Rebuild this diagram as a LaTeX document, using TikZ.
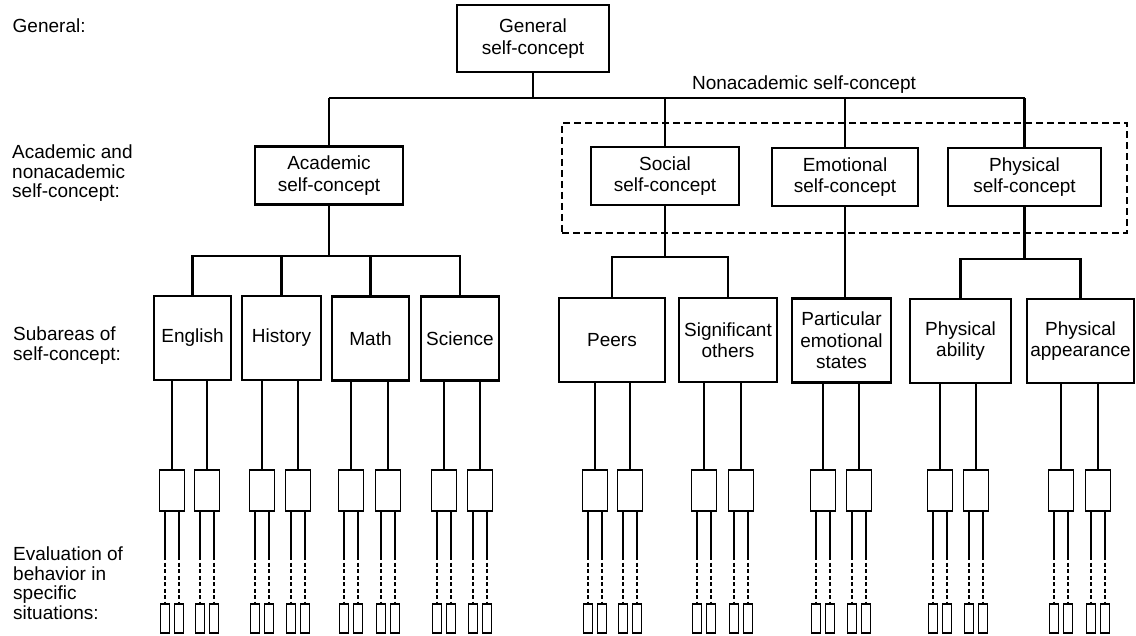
\documentclass[tikz,border=0pt]{standalone}
\usepackage{fontspec}
\setmainfont{Liberation Sans}
\usetikzlibrary{calc}
\newcommand\bxfont{\fontsize{19}{21.5}\selectfont}
\newcommand\lbfont{\fontsize{19}{19.5}\selectfont}
\begin{document}
\begin{tikzpicture}[x=1pt,y=-1pt,
  box/.style={draw, line width=2.2pt, inner sep=0pt, align=center, font=\bxfont},
  lvltwo/.style={box, minimum width=148pt, minimum height=58pt},
  lvlthree/.style={box, minimum height=84pt},
  sbox/.style={draw, line width=1.9pt, inner sep=0pt, minimum width=25pt, minimum height=41pt},
  tbox/.style={draw, line width=1.7pt, inner sep=0pt, minimum width=9pt, minimum height=29pt},
  conn/.style={line width=2.2pt},
  thin/.style={line width=1.8pt},
  dotted line/.style={line width=1.8pt, dash pattern=on 4pt off 2.5pt},
  dbox/.style={draw, line width=1.7pt, dash pattern=on 7pt off 4pt, inner sep=0pt},
  lbl/.style={anchor=north west, inner sep=0pt, align=left, font=\lbfont}
]
\useasboundingbox[fill=white] (0,0) rectangle (1136,636);

% left labels
\node[lbl] (lgen) at (12.5,18.8) {General:};
\node[lbl] (lacad) at (12,144.6) {Academic and\\nonacademic\\self-concept:};
\node[lbl] (lsub) at (13,327) {Subareas of\\self-concept:};
\node[lbl] (leval) at (13,547) {Evaluation of\\behavior in\\specific\\situations:};

% top
\node[box, minimum width=152pt, minimum height=67pt] (gen) at (533,38.5) {General\\self-concept};
\node[inner sep=0pt, font=\bxfont] (nonlbl) at (804,85) {Nonacademic self-concept};

% level 2
\node[lvltwo] (acad) at (329,175.5) {Academic\\self-concept};
\node[lvltwo] (soc) at (665,176) {Social\\self-concept};
\node[lvltwo, minimum width=146pt] (emo) at (845,177) {Emotional\\self-concept};
\node[lvltwo, minimum width=153pt] (phys) at (1024.5,177) {Physical\\self-concept};
\node[dbox, minimum width=565pt, minimum height=110pt] (nonacbox) at (844.5,178) {};

% bus
\coordinate (busL) at (acad.north |- 0,98);
\coordinate (busR) at (phys.north |- 0,98);
\draw[conn] (busL) -- (busR);
\draw[conn] (gen.south) -- (gen.south |- busL);
\foreach \n in {acad,soc,emo,phys}
  \draw[conn] (\n.north) -- (\n.north |- busL);

% level 3
\node[lvlthree, minimum width=77pt] (eng) at (192.5,338) {English};
\node[lvlthree, minimum width=79pt] (hist) at (281.5,338) {History};
\node[lvlthree, minimum width=77pt] (math) at (370.5,338.5) {Math};
\node[lvlthree, minimum width=78pt] (sci) at (460,338.5) {Science};
\node[lvlthree, minimum width=106pt] (peers) at (612,340) {Peers};
\node[lvlthree, minimum width=98pt] (sig) at (728,340) {Significant\\others};
\node[lvlthree, minimum width=99pt] (part) at (841.5,340.5) {Particular\\emotional\\states};
\node[lvlthree, minimum width=101pt] (abil) at (960.5,341) {Physical\\ability};
\node[lvlthree, minimum width=107pt] (appr) at (1080.5,341) {Physical\\appearance};

% academic branch
\coordinate (abus) at (acad.south |- 0,256);
\draw[conn] (acad.south) -- (abus);
\draw[conn] (eng.north) -- (eng.north |- abus) -- (sci.north |- abus) -- (sci.north);
\draw[conn] (hist.north) -- (hist.north |- abus);
\draw[conn] (math.north) -- (math.north |- abus);

% social branch
\coordinate (sbus) at (soc.south |- 0,257);
\draw[conn] (soc.south) -- (sbus);
\draw[conn] (peers.north) -- (peers.north |- sbus) -- (sig.north |- sbus) -- (sig.north);

% emotional branch
\draw[conn] (emo.south) -- (emo.south |- part.north);

% physical branch
\coordinate (pbus) at (phys.south |- 0,259);
\draw[conn] (phys.south) -- (pbus);
\draw[conn] (abil.north) -- (abil.north |- pbus) -- (appr.north |- pbus) -- (appr.north);

% level 4 and 5
\foreach \b/\xa/\xb in {eng/172/207, hist/262/298, math/351/388, sci/444/480,
                        peers/595/630, sig/704/741, part/823/859, abil/940/976, appr/1061/1098}{
  \foreach \xx/\k in {\xa/1,\xb/2}{
    \node[sbox] (\b\k) at (\xx,490.5) {};
    \draw[thin] (\b\k.north) -- (\b\k.north |- \b.south);
    \node[tbox] (\b\k a) at (\xx-7,618.5) {};
    \node[tbox] (\b\k b) at (\xx+7,618.5) {};
    \coordinate (\b\k ma) at (\xx-7,556);
    \coordinate (\b\k mb) at (\xx+7,556);
    \draw[thin] (\b\k ma |- \b\k.south) -- (\b\k ma);
    \draw[thin] (\b\k mb |- \b\k.south) -- (\b\k mb);
    \draw[dotted line] (\b\k ma) -- (\b\k a.north);
    \draw[dotted line] (\b\k mb) -- (\b\k b.north);
  }
}
\end{tikzpicture}
\end{document}
